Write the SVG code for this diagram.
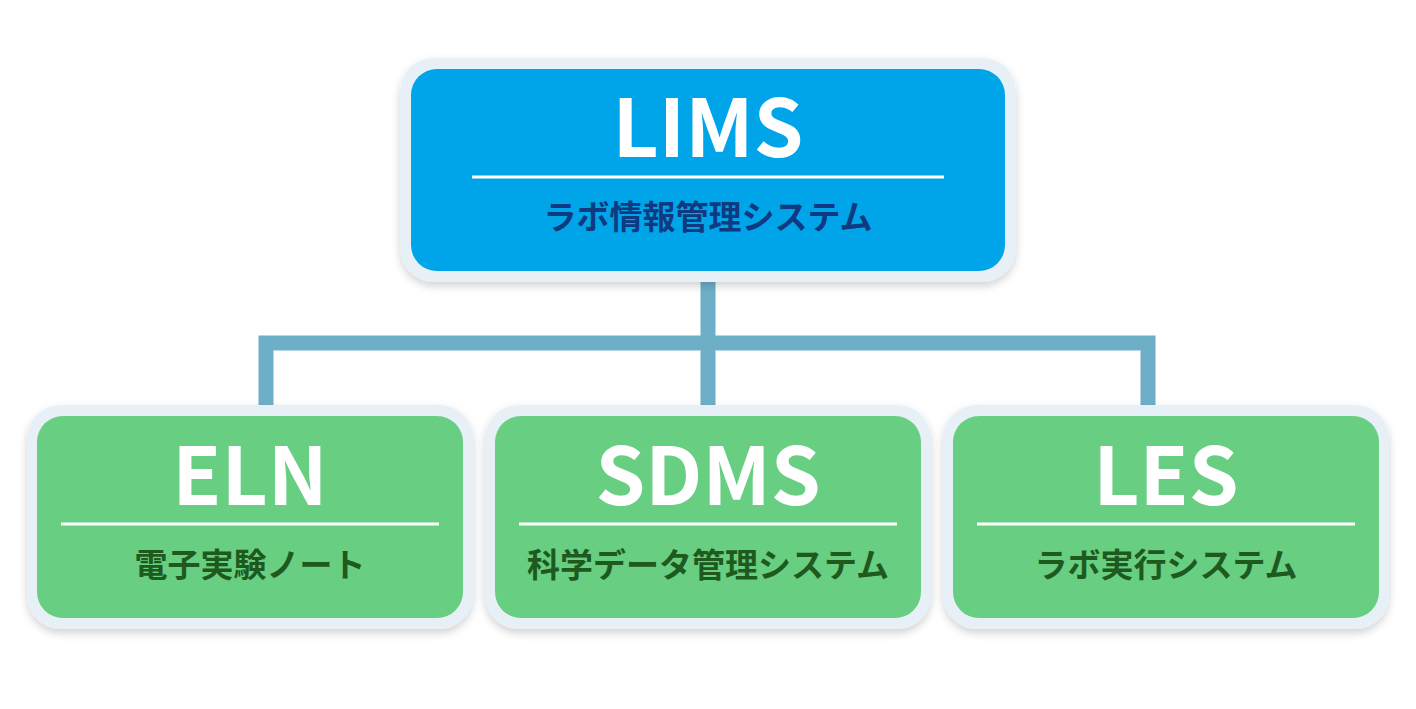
<svg xmlns="http://www.w3.org/2000/svg" width="1416" height="709" viewBox="0 0 1416 709">
<defs>
<filter id="sh" x="-10%" y="-10%" width="120%" height="130%"><feDropShadow dx="0" dy="4" stdDeviation="4" flood-color="#000" flood-opacity="0.18"/></filter>
<style>
.outer{fill:#e8f0f7;filter:url(#sh)}
.blue{fill:#00a4e8}
.green{fill:#67ce82}
.t{font-family:"Noto Sans CJK JP","Noto Sans",sans-serif;font-weight:bold;fill:#fff;text-anchor:middle}
.s{font-family:"Noto Sans CJK JP",sans-serif;font-weight:bold;text-anchor:middle;font-size:33px}
.rule{stroke:#fff;stroke-width:3}
.conn{stroke:#6eafc8;stroke-width:15;fill:none}
</style>
</defs>
<g id="connectors">
<path class="conn" d="M708 280V407M266 407V343H1148V407"/>
</g>
<g id="lims">
<rect class="outer" x="400" y="58" width="616" height="224" rx="34"/>
<rect class="blue" x="411" y="69" width="594" height="202" rx="26"/>
<text class="t" x="708" y="157" font-size="80">LIMS</text>
<line class="rule" x1="472" y1="177" x2="944" y2="177"/>
<text class="s" x="708" y="229" fill="#0d3a80">ラボ情報管理システム</text>
</g>
<g id="eln">
<rect class="outer" x="27" y="405" width="446" height="224" rx="34"/>
<rect class="green" x="37" y="416" width="426" height="202" rx="26"/>
<text class="t" x="250" y="505" font-size="80">ELN</text>
<line class="rule" x1="61" y1="524" x2="439" y2="524"/>
<text class="s" x="250" y="577" fill="#1e5a1e">電子実験ノート</text>
</g>
<g id="sdms">
<rect class="outer" x="485" y="405" width="446" height="224" rx="34"/>
<rect class="green" x="495" y="416" width="426" height="202" rx="26"/>
<text class="t" x="708" y="505" font-size="80">SDMS</text>
<line class="rule" x1="519" y1="524" x2="897" y2="524"/>
<text class="s" x="708" y="577" fill="#1e5a1e">科学データ管理システム</text>
</g>
<g id="les">
<rect class="outer" x="943" y="405" width="446" height="224" rx="34"/>
<rect class="green" x="953" y="416" width="426" height="202" rx="26"/>
<text class="t" x="1166" y="505" font-size="80">LES</text>
<line class="rule" x1="977" y1="524" x2="1355" y2="524"/>
<text class="s" x="1166" y="577" fill="#1e5a1e">ラボ実行システム</text>
</g>
</svg>
